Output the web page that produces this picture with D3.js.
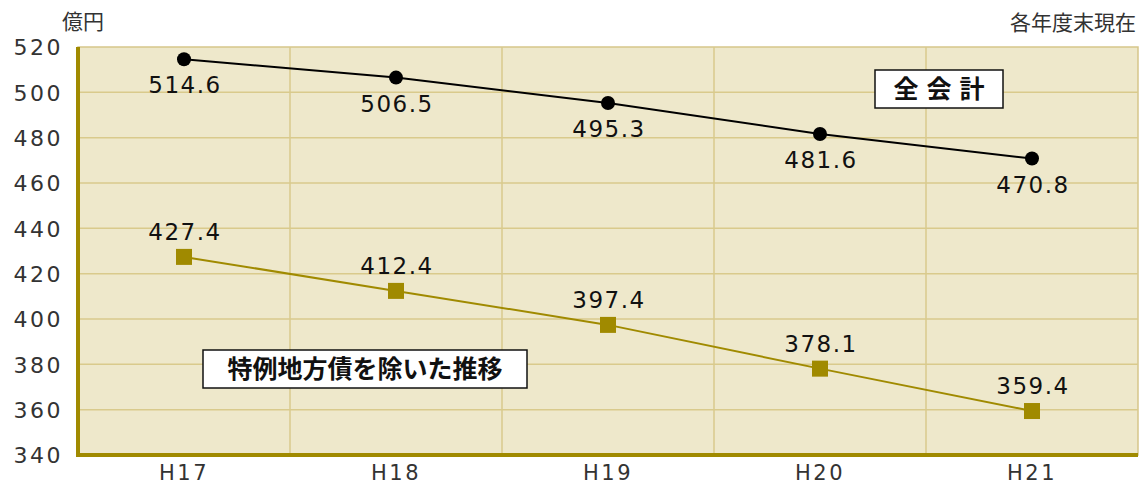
<!DOCTYPE html>
<html>
<head>
<meta charset="utf-8">
<script src="https://cdn.jsdelivr.net/npm/d3@7"></script>
<style>
  html, body { margin: 0; padding: 0; background: #fff; }
  svg text { font-family: "Noto Sans CJK JP", "Noto Sans", sans-serif; }
</style>
</head>
<body>
<div id="chart"></div>
<script>
var years     = ["H17", "H18", "H19", "H20", "H21"];
var total     = [514.6, 506.5, 495.3, 481.6, 470.8];
var excluding = [427.4, 412.4, 397.4, 378.1, 359.4];
var yTicks    = [340, 360, 380, 400, 420, 440, 460, 480, 500, 520];

(function () {
    var W = 1141, H = 486;
    var left = 78, right = 1138, top = 47, bottom = 455;
    var NUM_FONT = "'DejaVu Sans', sans-serif";

    var svg = d3.select("#chart").append("svg")
        .attr("width", W).attr("height", H);

    var x = d3.scaleBand().domain(years).range([left, right]);
    var y = d3.scaleLinear().domain([340, 520]).range([bottom, top]);

    // plot background
    svg.append("rect")
        .attr("x", left).attr("y", top)
        .attr("width", right - left).attr("height", bottom - top)
        .attr("fill", "#eee8cb")
        .attr("stroke", "#d6c68a").attr("stroke-width", 1.5);

    // horizontal grid
    svg.selectAll(".hgrid").data(yTicks.slice(1, -1)).enter().append("line")
        .attr("x1", left).attr("x2", right)
        .attr("y1", function (d) { return y(d); }).attr("y2", function (d) { return y(d); })
        .attr("stroke", "#d9ca8c").attr("stroke-width", 1.5);

    // vertical grid (band boundaries)
    svg.selectAll(".vgrid").data(years.slice(1)).enter().append("line")
        .attr("x1", function (d) { return x(d); }).attr("x2", function (d) { return x(d); })
        .attr("y1", top).attr("y2", bottom)
        .attr("stroke", "#d9ca8c").attr("stroke-width", 1.5);

    // axes lines (thick olive)
    svg.append("line")
        .attr("x1", left).attr("x2", left).attr("y1", top).attr("y2", bottom + 2)
        .attr("stroke", "#a08a00").attr("stroke-width", 4);
    svg.append("line")
        .attr("x1", left - 2).attr("x2", right).attr("y1", bottom).attr("y2", bottom)
        .attr("stroke", "#a08a00").attr("stroke-width", 4);

    // y tick labels
    svg.append("g")
        .attr("transform", "translate(" + (left - 15) + ",0)")
        .call(d3.axisLeft(y).tickValues(yTicks).tickSize(0))
        .call(function (g) {
            g.select(".domain").remove();
            g.selectAll("text")
                .attr("x", 0).attr("dy", "0.36em")
                .style("font-family", NUM_FONT)
                .style("font-size", "22px").style("fill", "#333")
                .style("letter-spacing", "2.5px");
        });

    // x tick labels
    svg.append("g")
        .attr("transform", "translate(0," + (bottom + 2) + ")")
        .call(d3.axisBottom(x).tickSize(0))
        .call(function (g) {
            g.select(".domain").remove();
            g.selectAll("text")
                .attr("dy", "0.95em")
                .style("font-family", NUM_FONT)
                .style("font-size", "21px").style("fill", "#333")
                .style("letter-spacing", "2.5px");
        });

    // unit labels
    svg.append("text").attr("x", 62).attr("y", 29)
        .style("font-size", "21px").style("fill", "#333").text("億円");
    svg.append("text").attr("x", 1136).attr("y", 30).attr("text-anchor", "end")
        .style("font-size", "21px").style("fill", "#333").text("各年度末現在");

    var cx = function (d, i) { return x(years[i]) + x.bandwidth() / 2; };
    var line = d3.line().x(function (d, i) { return cx(d, i); }).y(function (d) { return y(d); });

    // total series
    svg.append("path").datum(total)
        .attr("d", line).attr("fill", "none")
        .attr("stroke", "#000").attr("stroke-width", 2);
    svg.selectAll(".pt-total").data(total).enter().append("circle")
        .attr("cx", cx).attr("cy", function (d) { return y(d); })
        .attr("r", 7).attr("fill", "#000");
    svg.selectAll(".lb-total").data(total).enter().append("text")
        .attr("x", function (d, i) { return cx(d, i) + 1; })
        .attr("y", function (d) { return y(d) + 34; })
        .attr("text-anchor", "middle")
        .style("font-family", NUM_FONT)
        .style("font-size", "23px").style("fill", "#111")
        .style("letter-spacing", "1.5px")
        .text(function (d) { return d.toFixed(1); });

    // excluding special bonds series
    svg.append("path").datum(excluding)
        .attr("d", line).attr("fill", "none")
        .attr("stroke", "#a08a00").attr("stroke-width", 2);
    svg.selectAll(".pt-ex").data(excluding).enter().append("rect")
        .attr("x", function (d, i) { return cx(d, i) - 8; })
        .attr("y", function (d) { return y(d) - 8; })
        .attr("width", 16).attr("height", 16)
        .attr("fill", "#a08a00");
    svg.selectAll(".lb-ex").data(excluding).enter().append("text")
        .attr("x", function (d, i) { return cx(d, i) + 1; })
        .attr("y", function (d) { return y(d) - 17; })
        .attr("text-anchor", "middle")
        .style("font-family", NUM_FONT)
        .style("font-size", "23px").style("fill", "#111")
        .style("letter-spacing", "1.5px")
        .text(function (d) { return d.toFixed(1); });

    // legend boxes
    function box(bx, by, bw, bh, label, spacing) {
        svg.append("rect")
            .attr("x", bx).attr("y", by).attr("width", bw).attr("height", bh)
            .attr("fill", "#fff").attr("stroke", "#111").attr("stroke-width", 1.5);
        svg.append("text")
            .attr("x", bx + bw / 2 + spacing / 2).attr("y", by + bh / 2 + 9)
            .attr("text-anchor", "middle")
            .style("font-size", "25px").style("font-weight", "bold")
            .style("letter-spacing", spacing + "px")
            .style("fill", "#111")
            .text(label);
    }
    box(875, 70, 128, 38, "全会計", 8);
    box(203, 350, 324, 38, "特例地方債を除いた推移", 0);
}());
</script>
</body>
</html>
